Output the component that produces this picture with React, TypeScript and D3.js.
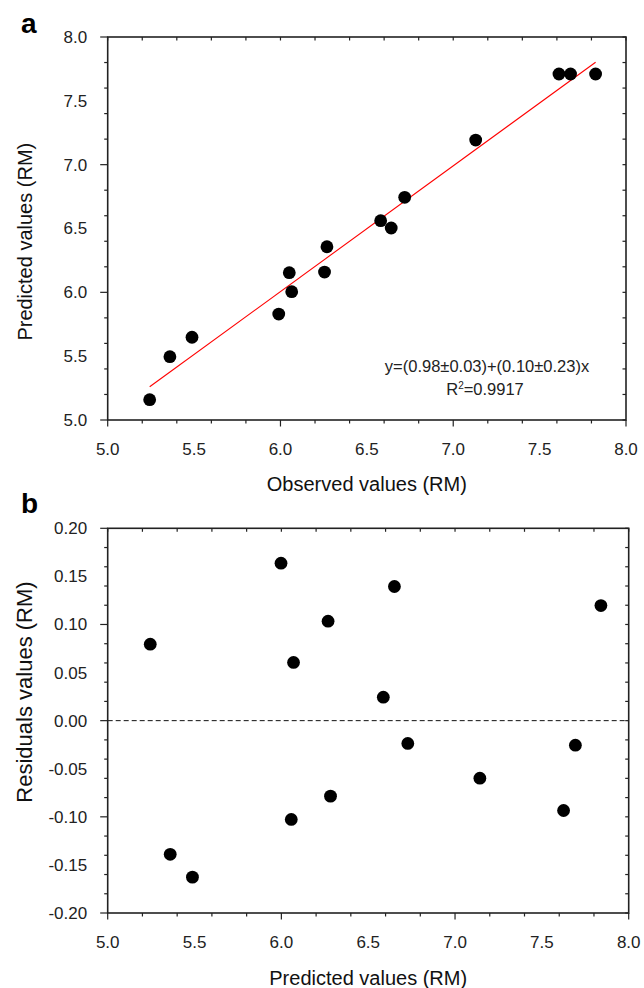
import React from "react";
import * as d3 from "d3";

const observedA = [5.243, 5.36, 5.488, 5.99, 6.051, 6.065, 6.255, 6.269, 6.58, 6.641, 6.719, 7.13, 7.612, 7.679, 7.824];
const predictedA = [5.159, 5.496, 5.648, 5.83, 6.154, 6.005, 6.159, 6.357, 6.561, 6.504, 6.744, 7.193, 7.71, 7.71, 7.71];
const fitIntercept = 0.096;
const fitSlope = 0.985;

const predictedB = [5.245, 5.36, 5.488, 5.998, 6.057, 6.07, 6.269, 6.283, 6.587, 6.651, 6.728, 7.143, 7.625, 7.693, 7.84];
const residualsB = [0.0795, -0.139, -0.1627, 0.1637, -0.1027, 0.0605, 0.1034, -0.0785, 0.0244, 0.1395, -0.0237, -0.0598, -0.0934, -0.0255, 0.1197];

const xDomain = [5, 8];
const yDomainA = [5, 8];
const yDomainB = [-0.2, 0.2];

const FONT = "'Liberation Sans', Arial, Helvetica, sans-serif";
const AXIS = "#222";

const hyphenFmt = (spec: string) => {
  const f = d3.format(spec);
  return (v: number) => f(v).replace("\u2212", "-");
};

type PanelProps = {
  left: number; right: number; top: number; bottom: number;
  yDomain: number[]; yMajorCount: number; yMinorCount: number; yFmt: (v: number) => string;
  xs: number[]; ys: number[];
  label: string; labelY: number;
  xTitle: string; xTitleY: number;
  yTitle: string; yTitleY: number; yTitleSize: number;
  children?: (x: d3.ScaleLinear<number, number>, y: d3.ScaleLinear<number, number>) => React.ReactNode;
};

function Panel(p: PanelProps) {
  const x = d3.scaleLinear().domain(xDomain).range([p.left, p.right]);
  const y = d3.scaleLinear().domain(p.yDomain).range([p.bottom, p.top]);
  const xMajor = x.ticks(6);
  const xMinor = x.ticks(12);
  const yMajor = y.ticks(p.yMajorCount);
  const yMinor = y.ticks(p.yMinorCount);
  const isMajorX = (v: number) => xMajor.some((m) => Math.abs(m - v) < 1e-9);
  const isMajorY = (v: number) => yMajor.some((m) => Math.abs(m - v) < 1e-9);
  return (
    <g>
      {p.children && p.children(x, y)}
      {p.xs.map((v, i) => (
        <circle key={i} cx={x(v)} cy={y(p.ys[i])} r={6.4} fill="#000" />
      ))}
      <rect x={p.left} y={p.top} width={p.right - p.left} height={p.bottom - p.top} fill="none" stroke={AXIS} strokeWidth={1.6} />
      {xMinor.map((v, i) => {
        const major = isMajorX(v);
        return (
          <g key={"xt" + i}>
            <line x1={x(v)} x2={x(v)} y1={p.bottom} y2={p.bottom + (major ? 6.5 : 3.5)} stroke={AXIS} strokeWidth={1.2} />
            <line x1={x(v)} x2={x(v)} y1={p.top} y2={p.top + 3.5} stroke={AXIS} strokeWidth={1.2} />
          </g>
        );
      })}
      {yMinor.map((v, i) => {
        const major = isMajorY(v);
        return (
          <g key={"yt" + i}>
            <line x1={p.left} x2={p.left - (major ? 7.5 : 3.5)} y1={y(v)} y2={y(v)} stroke={AXIS} strokeWidth={1.2} />
            <line x1={p.right} x2={p.right - 3.5} y1={y(v)} y2={y(v)} stroke={AXIS} strokeWidth={1.2} />
          </g>
        );
      })}
      {xMajor.map((v, i) => (
        <text key={"xl" + i} x={x(v)} y={p.bottom + 35} textAnchor="middle" fontSize={17} fontFamily={FONT} fill="#222">
          {d3.format(".1f")(v)}
        </text>
      ))}
      {yMajor.map((v, i) => (
        <text key={"yl" + i} x={p.left - 20.5} y={y(v)} dy="0.35em" textAnchor="end" fontSize={17} fontFamily={FONT} fill="#222">
          {p.yFmt(v)}
        </text>
      ))}
      <text x={(p.left + p.right) / 2} y={p.xTitleY} textAnchor="middle" fontSize={20} fontFamily={FONT} fill="#111">
        {p.xTitle}
      </text>
      <text transform={`translate(32,${p.yTitleY}) rotate(-90)`} textAnchor="middle" fontSize={p.yTitleSize} fontFamily={FONT} fill="#111">
        {p.yTitle}
      </text>
      <text x={21} y={p.labelY} fontSize={28} fontWeight="bold" fontFamily={FONT} fill="#000">
        {p.label}
      </text>
    </g>
  );
}

export default function App() {
  const xMin = d3.min(observedA) as number;
  const xMax = d3.max(observedA) as number;
  return (
    <svg width={644} height={988} style={{ position: "absolute", left: 0, top: 0, background: "#fff" }}>
      <rect x={0} y={0} width={644} height={988} fill="#fff" />
      <Panel
        left={107.7} right={626} top={37} bottom={420}
        yDomain={yDomainA} yMajorCount={6} yMinorCount={12} yFmt={hyphenFmt(".1f")}
        xs={observedA} ys={predictedA}
        label="a" labelY={33}
        xTitle="Observed values (RM)" xTitleY={491}
        yTitle="Predicted values (RM)" yTitleY={241.7} yTitleSize={20}
      >
        {(x, y) => (
          <g>
            <line x1={x(xMin)} y1={y(fitIntercept + fitSlope * xMin)} x2={x(xMax)} y2={y(fitIntercept + fitSlope * xMax)} stroke="#ff0000" strokeWidth={1.1} />
            <text x={487} y={372} textAnchor="middle" fontSize={16.5} fontFamily={FONT} fill="#222">
              y=(0.98±0.03)+(0.10±0.23)x
            </text>
            <text x={485} y={395} textAnchor="middle" fontSize={16.5} fontFamily={FONT} fill="#222">
              R<tspan dy={-6} fontSize={10}>2</tspan><tspan dy={6}>=0.9917</tspan>
            </text>
          </g>
        )}
      </Panel>
      <Panel
        left={107.7} right={628.7} top={528.3} bottom={913}
        yDomain={yDomainB} yMajorCount={8} yMinorCount={16} yFmt={hyphenFmt(".2f")}
        xs={predictedB} ys={residualsB}
        label="b" labelY={513}
        xTitle="Predicted values (RM)" xTitleY={985}
        yTitle="Residuals values (RM)" yTitleY={692} yTitleSize={22}
      >
        {(x, y) => (
          <line x1={x(5)} x2={x(8)} y1={y(0)} y2={y(0)} stroke="#111" strokeWidth={1} strokeDasharray="5,3" />
        )}
      </Panel>
    </svg>
  );
}
